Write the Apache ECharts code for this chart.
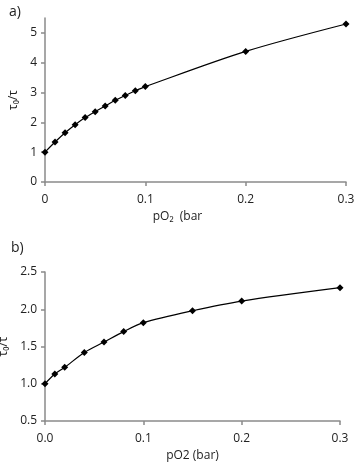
<!DOCTYPE html>
<html>
<head>
<meta charset="utf-8">
<script src="https://cdn.jsdelivr.net/npm/echarts@6/dist/echarts.min.js"></script>
<style>
  html, body { margin: 0; padding: 0; background: #fff; }
  #main { width: 354px; height: 464px; }
</style>
</head>
<body>
<div id="main"></div>
<script>
// panel a) - 全范围
var xA = [0, 0.01, 0.02, 0.03, 0.04, 0.05, 0.06, 0.07, 0.08, 0.09, 0.1, 0.2, 0.3];
var yA = [1.0, 1.34, 1.65, 1.92, 2.16, 2.36, 2.55, 2.74, 2.9, 3.06, 3.2, 4.38, 5.3];
// panel b)
var xB = [0, 0.01, 0.02, 0.04, 0.06, 0.08, 0.1, 0.15, 0.2, 0.3];
var yB = [1.0, 1.13, 1.22, 1.42, 1.56, 1.7, 1.82, 1.98, 2.11, 2.29];

var axisColor = '#8a8a8a';
var textColor = '#222';
var font = 'Open Sans, Liberation Sans, sans-serif';

function pairs(xs, ys) {
  return xs.map(function (x, i) { return [x, ys[i]]; });
}

function xAxisCfg(grid, name, fmt, pad) {
  return {
    type: 'value', gridIndex: grid, min: 0, max: 0.3, interval: 0.1,
    name: name, nameLocation: 'middle', nameGap: 29,
    nameTextStyle: { color: textColor, fontSize: 12, fontFamily: font, padding: pad },
    axisLine: { show: true, onZero: false, lineStyle: { color: axisColor, width: 1.5 } },
    axisTick: { show: true, length: 4, lineStyle: { color: axisColor, width: 1.5 } },
    axisLabel: { color: textColor, fontSize: 12, fontFamily: font, margin: 12, formatter: fmt },
    splitLine: { show: false }
  };
}

function yAxisCfg(grid, min, max, interval, fmt, gap, showMax) {
  return {
    type: 'value', gridIndex: grid, min: min, max: max, interval: interval,
    name: 'τ₀/τ', nameLocation: 'middle', nameGap: gap, nameRotate: 90,
    nameTextStyle: { color: textColor, fontSize: 12, fontFamily: font },
    axisLine: { show: true, onZero: false, lineStyle: { color: axisColor, width: 1.5 } },
    axisTick: { show: true, length: 4, lineStyle: { color: axisColor, width: 1.5 } },
    axisLabel: { color: textColor, fontSize: 12, fontFamily: font, margin: 8, formatter: fmt, showMaxLabel: showMax },
    splitLine: { show: false }
  };
}

var option = {
  animation: false,
  backgroundColor: '#fff',
  title: [
    { text: 'a)', left: 4, top: 0, textStyle: { fontSize: 14, fontWeight: 'normal', color: textColor, fontFamily: font } },
    { text: 'b)', left: 6, top: 236, textStyle: { fontSize: 14, fontWeight: 'normal', color: textColor, fontFamily: font } }
  ],
  grid: [
    { left: 45, right: 8, top: 18, height: 164, outerBoundsMode: 'none', containLabel: false },
    { left: 45, right: 14, top: 272, height: 149, outerBoundsMode: 'none', containLabel: false }
  ],
  xAxis: [
    xAxisCfg(0, 'pO₂  (bar', function (v) { return String(+v.toFixed(1)); }, [0, 36, 0, 0]),
    xAxisCfg(1, 'pO2 (bar)', function (v) { return v.toFixed(1); }, [0, 0, 0, 0])
  ],
  yAxis: [
    yAxisCfg(0, 0, 5.5, 1, function (v) { return String(v); }, 24, false),
    yAxisCfg(1, 0.5, 2.5, 0.5, function (v) { return v.toFixed(1); }, 34, true)
  ],
  series: [
    {
      type: 'line', xAxisIndex: 0, yAxisIndex: 0, data: pairs(xA, yA),
      smooth: 0.3, symbol: 'diamond', symbolSize: 7,
      lineStyle: { color: '#000', width: 1.2 }, itemStyle: { color: '#000' }
    },
    {
      type: 'line', xAxisIndex: 1, yAxisIndex: 1, data: pairs(xB, yB),
      smooth: 0.3, symbol: 'diamond', symbolSize: 7,
      lineStyle: { color: '#000', width: 1.2 }, itemStyle: { color: '#000' }
    }
  ]
};

var myChart = echarts.init(document.getElementById('main'));
myChart.setOption(option);
</script>
</body>
</html>
